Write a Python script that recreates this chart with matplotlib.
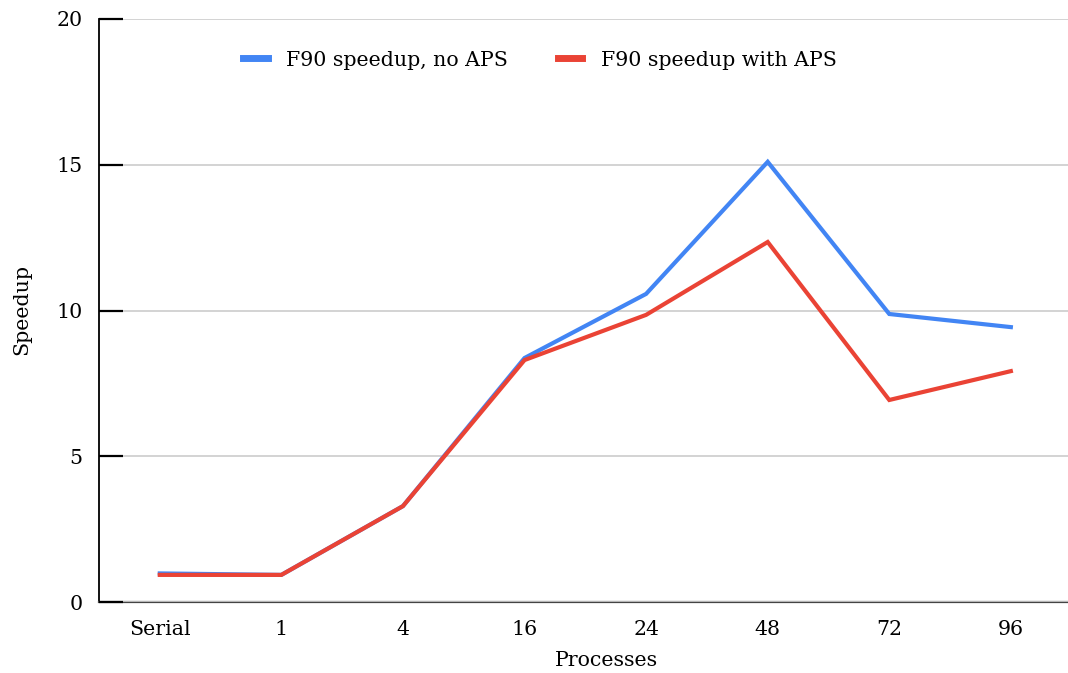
import matplotlib
matplotlib.use("Agg")
import matplotlib.pyplot as plt
from matplotlib.lines import Line2D

# Speedup of the F90 code versus number of MPI processes
processes = ["Serial", "1", "4", "16", "24", "48", "72", "96"]
speedup_no_aps = [0.98, 0.93, 3.29, 8.37, 10.57, 15.1, 9.88, 9.43]
speedup_with_aps = [0.93, 0.93, 3.29, 8.3, 9.85, 12.35, 6.93, 7.92]
series_labels = ["F90 speedup, no APS", "F90 speedup with APS"]
y_ticks = [0, 5, 10, 15, 20]

BLUE = "#4285F4"
RED = "#EA4335"
SERIF = ["DejaVu Serif"]
FS = 14.8

W, H, DPI = 1068, 673, 100
fig = plt.figure(figsize=(W / DPI, H / DPI), dpi=DPI)
ax = fig.add_axes([99 / W, 1 - 602 / H, (1068 - 99) / W, (602 - 19) / H])

x = list(range(len(processes)))
ax.plot(x, speedup_no_aps, color=BLUE, lw=3.0, solid_joinstyle="miter", zorder=3)
ax.plot(x, speedup_with_aps, color=RED, lw=3.0, solid_joinstyle="miter", zorder=4)

ax.set_xlim(-0.5, 7.47)
ax.set_ylim(0, 20)
ax.set_yticks(y_ticks)
ax.set_yticklabels([str(v) for v in y_ticks], fontfamily=SERIF, fontsize=FS)
ax.set_xticks(x)
ax.set_xticklabels(processes, fontfamily=SERIF, fontsize=FS)

ax.yaxis.grid(True, color="#cccccc", lw=1.2)
ax.yaxis.set_zorder(2.6)

for s in ["top", "right"]:
    ax.spines[s].set_visible(False)
ax.spines["left"].set_color("black")
ax.spines["left"].set_linewidth(1.3)
ax.spines["bottom"].set_color("#444444")
ax.spines["bottom"].set_linewidth(1.6)

ax.tick_params(axis="y", direction="in", length=17, width=1.6, color="black", pad=12)
ax.tick_params(axis="x", length=0, pad=13)

fig.text(22 / W, 1 - 310 / H, "Speedup", rotation=90, ha="center", va="center",
         fontfamily=SERIF, fontsize=FS)
fig.text(606 / W, 1 - 660 / H, "Processes", ha="center", va="center",
         fontfamily=SERIF, fontsize=FS)

handles = [Line2D([], [], color=BLUE, lw=5), Line2D([], [], color=RED, lw=5)]
leg = ax.legend(handles, series_labels, loc="center", ncol=2,
                bbox_to_anchor=((540 - 99) / (1068 - 99), (602 - 60) / (602 - 19)),
                frameon=False, prop={"family": SERIF, "size": FS},
                handlelength=1.2, handletextpad=0.9, columnspacing=2.4)

fig.savefig("out.png", dpi=DPI)
